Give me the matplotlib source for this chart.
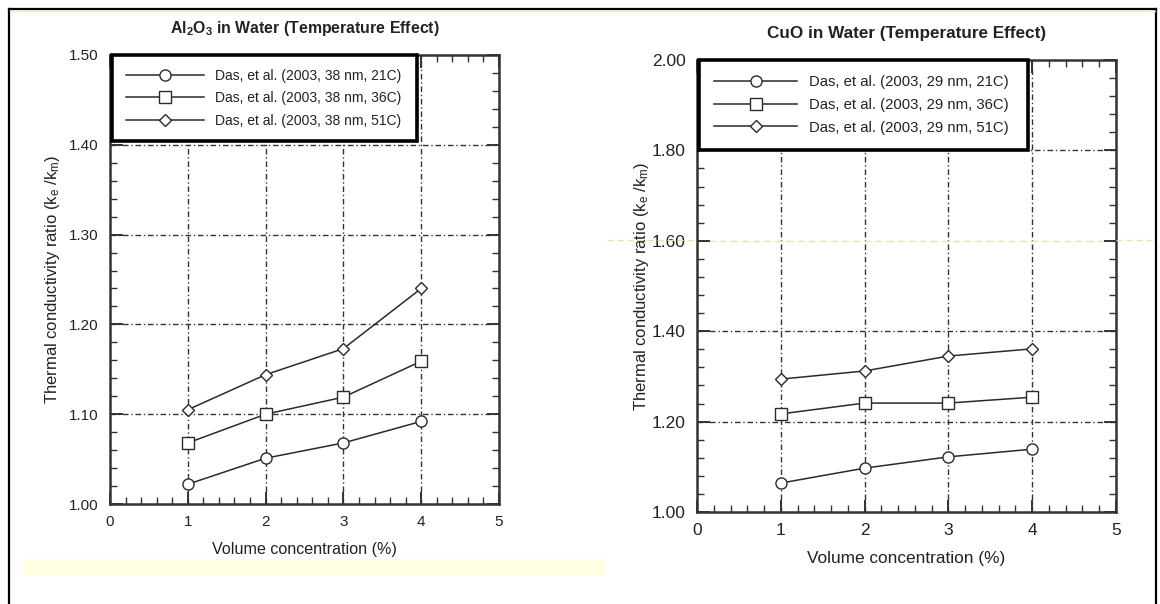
import matplotlib.pyplot as plt
from matplotlib.lines import Line2D
from matplotlib.patches import Rectangle
from matplotlib.ticker import MultipleLocator

plt.rcParams['font.family'] = ['Liberation Sans', 'DejaVu Sans']
plt.rcParams['mathtext.default'] = 'regular'

conc = [1, 2, 3, 4]

# Al2O3 in water, 38 nm
al_labels = ['Das, et al. (2003, 38 nm, 21C)',
             'Das, et al. (2003, 38 nm, 36C)',
             'Das, et al. (2003, 38 nm, 51C)']
al_21 = [1.022, 1.051, 1.068, 1.092]
al_36 = [1.068, 1.100, 1.119, 1.159]
al_51 = [1.105, 1.144, 1.173, 1.240]

# CuO in water, 29 nm
cu_labels = ['Das, et al. (2003, 29 nm, 21C)',
             'Das, et al. (2003, 29 nm, 36C)',
             'Das, et al. (2003, 29 nm, 51C)']
cu_21 = [1.064, 1.097, 1.122, 1.139]
cu_36 = [1.217, 1.241, 1.241, 1.254]
cu_51 = [1.294, 1.312, 1.345, 1.361]

W, H = 1160, 604
fig = plt.figure(figsize=(W / 100, H / 100), dpi=100)
fig.patch.set_facecolor('white')

ink = '#2a2a2a'
grid_ls = (0, (4, 2, 1, 2))


def px_axes(x0, x1, ytop, ybot):
    return fig.add_axes([x0 / W, (H - ybot) / H, (x1 - x0) / W, (ybot - ytop) / H])


def panel(ax, series, labels, ymax, ystep, title, fs, ylpad, skip_grid=()):
    for y, lab, m, ms in zip(series, labels, ['o', 's', 'D'], [8, 8.5, 6.5]):
        ax.plot(conc, y, color=ink, lw=1.1, marker=m, ms=ms, mfc='white',
                mec=ink, mew=1.0, label=lab, zorder=3)
    ax.set_xlim(0, 5)
    ax.set_ylim(1.0, ymax)
    ax.xaxis.set_major_locator(MultipleLocator(1))
    ax.xaxis.set_minor_locator(MultipleLocator(0.2))
    ax.yaxis.set_major_locator(MultipleLocator(ystep))
    ax.yaxis.set_minor_locator(MultipleLocator(ystep / 5))
    ax.set_yticklabels([f'{v:.2f}' for v in ax.get_yticks()])
    ax.tick_params(which='both', direction='in', top=True, right=True,
                   color='#333333', labelsize=fs['tick'], labelcolor='#222222')
    ax.tick_params(which='major', length=9, width=1.4, pad=8)
    ax.tick_params(which='minor', length=5, width=1.0)
    for s in ax.spines.values():
        s.set_linewidth(1.8)
        s.set_color('#333333')
    for x in conc:
        ax.axvline(x, color='#333333', lw=1.0, ls=grid_ls, zorder=1)
    k = 1
    while 1.0 + k * ystep < ymax - 1e-6:
        yv = 1.0 + k * ystep
        if k in skip_grid:
            ax.axhline(yv, color='#e6e4a8', lw=1.0, ls=(0, (5, 3)), zorder=1)
        else:
            ax.axhline(yv, color='#333333', lw=1.0, ls=grid_ls, zorder=1)
        k += 1
    ax.set_xlabel('Volume concentration (%)', fontsize=fs['xlabel'],
                  color='#222222', labelpad=9)
    ax.set_ylabel('Thermal conductivity ratio (k$_e$ /k$_m$)', fontsize=fs['ylabel'],
                  color='#222222', labelpad=ylpad)
    ax.set_title(title, fontsize=fs['title'], fontweight='bold', color='#222222', pad=16)
    leg = ax.legend(loc='upper left', bbox_to_anchor=(0.005, 1.0, 0.785, 0.0),
                    mode='expand', fontsize=fs['legend'], handlelength=5.6,
                    labelspacing=0.6, borderpad=1.0, fancybox=False,
                    framealpha=1, edgecolor='black', borderaxespad=0)
    leg.get_frame().set_linewidth(2.6)
    for t in leg.get_texts():
        t.set_color('#222222')


ax1 = px_axes(110, 499, 55, 504)
panel(ax1, [al_21, al_36, al_51], al_labels, 1.5, 0.1,
      'Al$_2$O$_3$ in Water (Temperature Effect)',
      dict(tick=11, xlabel=11.6, ylabel=12, title=11.4, legend=10), ylpad=5)

ax2 = px_axes(697, 1116, 60, 512)
panel(ax2, [cu_21, cu_36, cu_51], cu_labels, 2.0, 0.2,
      'CuO in Water (Temperature Effect)',
      dict(tick=12.5, xlabel=12.4, ylabel=12, title=12.3, legend=10.7), ylpad=1,
      skip_grid=(3,))

# page frame and highlight band
def fig_line(xs, ys, **kw):
    fig.add_artist(Line2D([x / W for x in xs], [(H - y) / H for y in ys],
                          transform=fig.transFigure, **kw))

fig_line([9, 9], [9, 604], color='black', lw=1.6)
fig_line([9, 1156], [9, 9], color='black', lw=1.6)
fig_line([1156, 1156], [9, 604], color='black', lw=1.6)
fig_line([10, 1155], [11, 11], color='#f3f0c0', lw=1.0)
fig_line([607, 697], [240, 240], color='#e6e4a8', lw=0.9, ls=(0, (5, 3)))
fig_line([1116, 1155], [240, 240], color='#e6e4a8', lw=0.9, ls=(0, (5, 3)))
fig.add_artist(Rectangle((23 / W, (H - 576) / H), (605 - 23) / W, 17 / H,
                         transform=fig.transFigure, color='#fffee0', lw=0))

fig.savefig('out.png', dpi=100)
